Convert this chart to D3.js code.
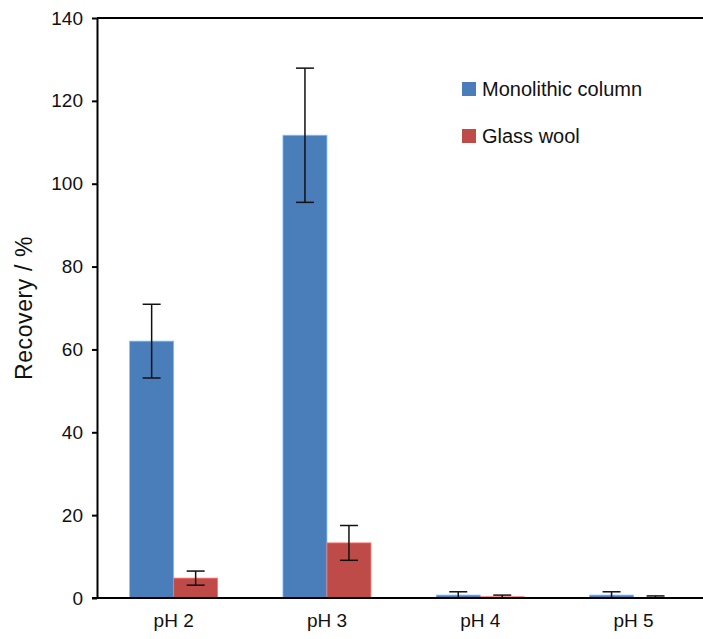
<!DOCTYPE html>
<html lang="en">
<head>
<meta charset="utf-8">
<title>Recovery by pH</title>
<style>
  body { margin: 0; background: white; font-family: "Liberation Sans", Arial, Helvetica, sans-serif; }
  svg { display: block; background: white; }
  .axis path, .axis line { fill: none; stroke: black; stroke-width: 2; }
  .axis text { font-family: "Liberation Sans", Arial, sans-serif; font-size: 19px; fill: #111; }
  .ylabel { font-size: 23px; fill: #111; letter-spacing: 0.6px; }
  .legend text { font-size: 20px; fill: #111; }
  .err { stroke: #111; stroke-width: 1.5; fill: none; }
</style>
</head>
<body>
<script src="https://cdnjs.cloudflare.com/ajax/libs/d3/7.8.5/d3.min.js"></script>
<script>
var categories = ["pH 2", "pH 3", "pH 4", "pH 5"];
var seriesNames = ["Monolithic column", "Glass wool"];
var monolithic = [62, 111.7, 0.7, 0.7];
var monolithicErr = [8.9, 16.2, 0.8, 0.8];
var glassWool = [4.8, 13.3, 0.3, 0.15];
var glassWoolErr = [1.7, 4.2, 0.4, 0.35];
var yTicks = [0, 20, 40, 60, 80, 100, 120, 140];
var colors = ["#4A7EBB", "#BE4B48"];

var fullwidth = 703, fullheight = 639;
var margin = { top: 18, left: 97 };
var plotH = 580;
var step = 153.3;

var svg = d3.select("body").append("svg")
  .attr("width", fullwidth)
  .attr("height", fullheight);

var g = svg.append("g")
  .attr("transform", "translate(" + margin.left + "," + margin.top + ")");

var xScale = d3.scaleBand().domain(categories).range([0, step * categories.length]).paddingInner(0.426).paddingOuter(0.213);
var xSub = d3.scaleBand().domain(seriesNames).range([0, xScale.bandwidth()]);
var yScale = d3.scaleLinear().domain([0, 140]).range([plotH, 0]);

var rows = categories.map(function(c, i) {
  return { cat: c, vals: [
    { s: seriesNames[0], v: monolithic[i], e: monolithicErr[i], c: colors[0] },
    { s: seriesNames[1], v: glassWool[i], e: glassWoolErr[i], c: colors[1] }
  ] };
});

var groups = g.selectAll(".grp").data(rows).enter().append("g")
  .attr("class", "grp")
  .attr("transform", function(d) { return "translate(" + xScale(d.cat) + ",0)"; });

groups.selectAll("rect").data(function(d) { return d.vals; }).enter().append("rect")
  .attr("x", function(d) { return xSub(d.s); })
  .attr("width", xSub.bandwidth())
  .attr("y", function(d) { return yScale(d.v); })
  .attr("height", function(d) { return plotH - yScale(d.v); })
  .attr("fill", function(d) { return d.c; })
  .attr("stroke", function(d) { return d3.color(d.c).brighter(1.2); })
  .attr("stroke-width", 0.8);

// error bars
var cap = 9;
var eb = groups.selectAll(".eb").data(function(d) { return d.vals; }).enter().append("g").attr("class", "eb");
eb.append("line").attr("class", "err")
  .attr("x1", function(d) { return xSub(d.s) + xSub.bandwidth() / 2; })
  .attr("x2", function(d) { return xSub(d.s) + xSub.bandwidth() / 2; })
  .attr("y1", function(d) { return yScale(d.v + d.e); })
  .attr("y2", function(d) { return yScale(Math.max(0, d.v - d.e)); });
eb.append("line").attr("class", "err")
  .attr("x1", function(d) { return xSub(d.s) + xSub.bandwidth() / 2 - cap; })
  .attr("x2", function(d) { return xSub(d.s) + xSub.bandwidth() / 2 + cap; })
  .attr("y1", function(d) { return yScale(d.v + d.e); })
  .attr("y2", function(d) { return yScale(d.v + d.e); });
eb.filter(function(d) { return d.v - d.e > 0; }).append("line").attr("class", "err")
  .attr("x1", function(d) { return xSub(d.s) + xSub.bandwidth() / 2 - cap; })
  .attr("x2", function(d) { return xSub(d.s) + xSub.bandwidth() / 2 + cap; })
  .attr("y1", function(d) { return yScale(d.v - d.e); })
  .attr("y2", function(d) { return yScale(d.v - d.e); });

// axes
g.append("g").attr("class", "y axis")
  .call(d3.axisLeft(yScale).tickValues(yTicks).tickSize(5).tickPadding(9).tickSizeOuter(0));

g.append("g").attr("class", "x axis")
  .attr("transform", "translate(0," + plotH + ")")
  .call(d3.axisBottom(xScale).tickSize(0).tickPadding(16).tickSizeOuter(0))
  .select(".domain").attr("d", "M-5,0H" + (step * categories.length));

// top border
g.append("line")
  .attr("x1", 0).attr("x2", step * categories.length)
  .attr("y1", 0).attr("y2", 0)
  .attr("stroke", "black").attr("stroke-width", 2);

// y label
svg.append("text")
  .attr("class", "ylabel")
  .attr("transform", "translate(32,308) rotate(-90)")
  .attr("text-anchor", "middle")
  .text("Recovery / %");

// legend
var legend = svg.append("g").attr("class", "legend");
var li = legend.selectAll("g").data(seriesNames).enter().append("g")
  .attr("transform", function(d, i) { return "translate(462," + (82 + i * 47) + ")"; });
li.append("rect").attr("width", 14).attr("height", 14)
  .attr("fill", function(d, i) { return colors[i]; });
li.append("text").attr("x", 20).attr("y", 14).text(function(d) { return d; });
</script>
</body>
</html>
